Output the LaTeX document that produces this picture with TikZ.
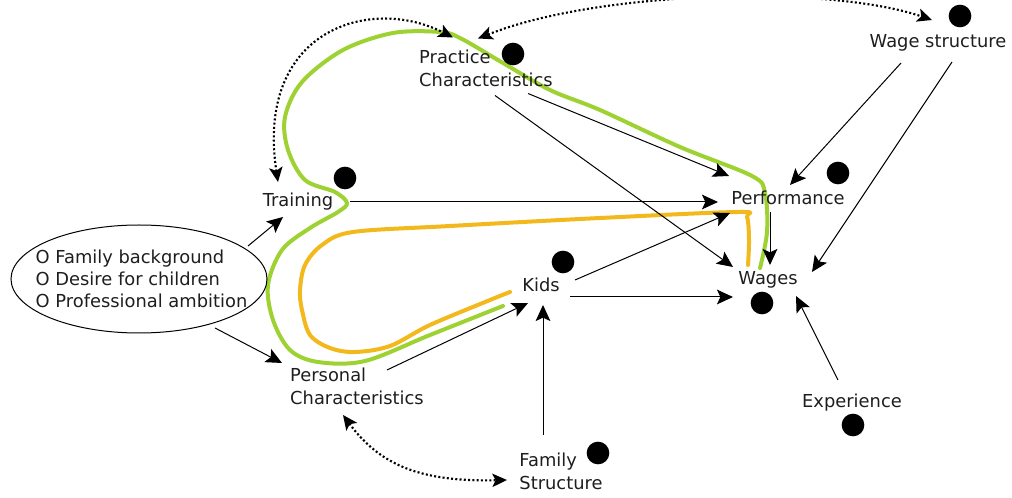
\documentclass[tikz,border=0pt]{standalone}
\usepackage{fontspec}
\setmainfont{DejaVu Sans}
\usetikzlibrary{arrows.meta,calc,shapes.geometric}
\definecolor{lgreen}{RGB}{158,210,50}
\definecolor{gold}{RGB}{242,184,28}
\definecolor{txt}{RGB}{30,30,30}
\begin{document}
\begin{tikzpicture}[x=0.75pt,y=-0.75pt,
  lbl/.style={font=\fontsize{13.4}{17.3}\selectfont, text=txt, inner sep=0pt, align=left},
  one/.style={lbl, text height=0.76em, text depth=0.24em},
  dot/.style={circle, fill=black, inner sep=0pt, minimum size=17pt},
  conn/.style={line width=0.75pt, -{Stealth[length=12pt,width=11pt,inset=2.5pt]}},
  dotconn/.style={line width=1.6pt, dash pattern=on 1.5pt off 1.7pt,
     {Stealth[length=11pt,width=10pt,inset=2.5pt]}-{Stealth[length=11pt,width=10pt,inset=2.5pt]}},
  hl/.style={line width=3pt, line cap=round, line join=round}]
\useasboundingbox (0,0) rectangle (1012,498);

% highlight curves
\draw[hl, lgreen] plot[smooth, tension=0.55] coordinates {
  (503,306) (430,335) (365,361) (318,362) (290,350) (273,320) (268,285)
  (282,250) (310,228) (338,212) (347,203) (335,192) (305,180) (288,150)
  (285,117) (302,82) (343,50) (393,33) (440,32) (460,38) (503,63) (550,90)
  (600,110) (680,147) (752,176) (765,193) (767,232) (760,268)};
\draw[hl, gold] plot[smooth, tension=0.55] coordinates {
  (510,292) (490,300) (430,325) (390,346) (355,352) (330,348) (310,335)
  (302,310) (300,290) (305,265) (322,245) (353,232) (450,226) (600,218)
  (738,212) (747,217) (749,240) (748,265)};

% labels
\node[lbl] (prac) at (486,68.5) {Practice\\Characteristics};
\node[one] (wage) at (938,44) {Wage structure};
\node[one] (train) at (298,203) {Training};
\node[one] (perf) at (788,201) {Performance};
\node[one] (kids) at (541,288) {Kids};
\node[one] (wages) at (768,281) {Wages};
\node[one] (exper) at (852,404) {Experience};
\node[lbl] (pers) at (357,386) {Personal\\Characteristics};
\node[lbl] (fam) at (561,471) {Family\\Structure};
\node[draw=black, line width=0.75pt, ellipse, inner sep=0pt,
      minimum width=192pt, minimum height=81pt] (ell) at (139,279) {};
\node[lbl, font=\fontsize{13.4}{16.5}\selectfont] (elltext) at (141.5,279)
      {O Family background\\O Desire for children\\O Professional ambition};

% dots
\node[dot] (dprac) at (513,54) {};
\node[dot] (dwage) at (960,16) {};
\node[dot] (dtrain) at (345,178) {};
\node[dot] (dperf) at (838,173) {};
\node[dot] (dkids) at (563,262) {};
\node[dot] (dwages) at (762,303) {};
\node[dot] (dexper) at (853,425) {};
\node[dot] (dfam) at (598,453) {};

% solid connectors
\draw[conn] ($(ell)+(109,-33)$) -- ($(train)+(-15,14)$);
\draw[conn] ($(ell)+(76,49)$) -- ($(pers)+(-75,-23)$);
\draw[conn] ($(train)+(52,-1)$) -- ($(perf)+(-70,1)$);
\draw[conn] ($(prac)+(42,25)$) -- ($(perf)+(-59,-25)$);
\draw[conn] ($(prac)+(9,27)$) -- ($(wages)+(-35,-14)$);
\draw[conn] ($(wage)+(-37,19)$) -- ($(perf)+(2,-16)$);
\draw[conn] ($(wage)+(14,18)$) -- ($(wages)+(44,-9)$);
\draw[conn] ($(perf)+(-18,11)$) -- ($(wages)+(2,-16)$);
\draw[conn] ($(kids)+(34,-8)$) -- ($(perf)+(-58,12)$);
\draw[conn] ($(kids)+(29,9)$) -- ($(wages)+(-35,16)$);
\draw[conn] ($(pers)+(30,-16)$) -- ($(kids)+(-13,15)$);
\draw[conn] ($(fam)+(-18,-36)$) -- ($(kids)+(2,17)$);
\draw[conn] ($(exper)+(-14,-24)$) -- ($(wages)+(28,15)$);

% dotted two-way connectors
\draw[dotconn] ($(train)+(-20,-21)$) .. controls (255,30) and (370,-5) .. ($(prac)+(-33,-31)$);
\draw[dotconn] ($(prac)+(-8,-30)$) .. controls (600,-10) and (830,-15) .. ($(wage)+(-6,-24)$);
\draw[dotconn] ($(pers)+(-14,29)$) .. controls (380,465) and (420,482) .. ($(fam)+(-54,9)$);
\end{tikzpicture}
\end{document}
